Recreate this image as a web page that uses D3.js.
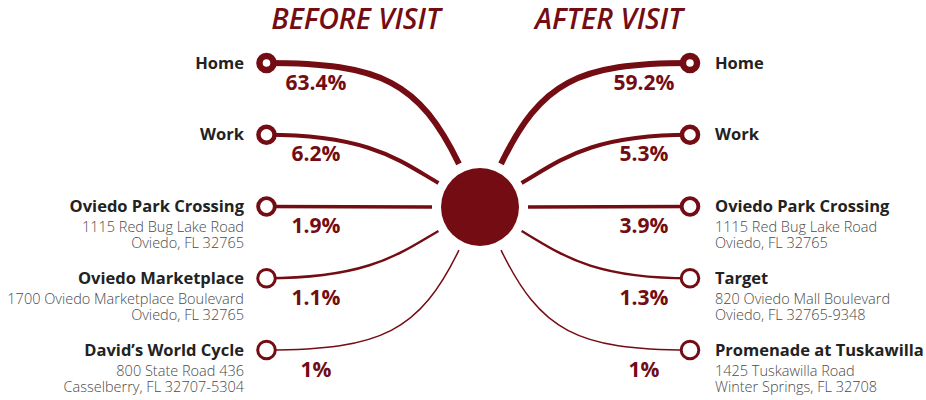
<!DOCTYPE html>
<html>
<head>
<meta charset="utf-8">
<script src="https://cdn.jsdelivr.net/npm/d3@7"></script>
<style>
  body { margin: 0; background: #fff; }
  text { font-family: "Open Sans", sans-serif; }
</style>
</head>
<body>
<div id="chart"></div>
<script>
// data
var titles = ["BEFORE VISIT", "AFTER VISIT"];

var beforeNames = ["Home", "Work", "Oviedo Park Crossing", "Oviedo Marketplace", "David’s World Cycle"];
var beforeAddress = [
  [],
  [],
  ["1115 Red Bug Lake Road", "Oviedo, FL 32765"],
  ["1700 Oviedo Marketplace Boulevard", "Oviedo, FL 32765"],
  ["800 State Road 436", "Casselberry, FL 32707-5304"]
];
var beforeValues = [63.4, 6.2, 1.9, 1.1, 1];

var afterNames = ["Home", "Work", "Oviedo Park Crossing", "Target", "Promenade at Tuskawilla"];
var afterAddress = [
  [],
  [],
  ["1115 Red Bug Lake Road", "Oviedo, FL 32765"],
  ["820 Oviedo Mall Boulevard", "Oviedo, FL 32765-9348"],
  ["1425 Tuskawilla Road", "Winter Springs, FL 32708"]
];
var afterValues = [59.2, 5.3, 3.9, 1.3, 1];

// layout
var width = 926, height = 400;
var cx = 480, cy = 207, hubR = 39, gapR = 48;
var red = "#740c13";

var svg = d3.select("#chart")
  .append("svg")
  .attr("width", width)
  .attr("height", height);

var y = d3.scalePoint()
  .domain(d3.range(5))
  .range([63, 350]);

// angle (deg) at which each link leaves the hub, by rank
var angle = d3.scaleOrdinal()
  .domain(d3.range(5))
  .range([64, 30, 0, -30, -64]);

// link thickness by rank
var lineW = d3.scaleOrdinal()
  .domain(d3.range(5))
  .range([6, 4, 3.4, 2.4, 1.5]);

function fmt(v) {
  return (v % 1 === 0 ? v : v.toFixed(1)) + "%";
}

function linkPath(i, side, nodeX) {
  var a = angle(i) * Math.PI / 180;
  var ux = side * Math.cos(a), uy = -Math.sin(a);
  var sx = cx + ux * gapR, sy = cy + uy * gapR;
  var ey = y(i);
  var dy = Math.abs(ey - sy);
  var L = 0.9 * dy;
  var p = d3.path();
  p.moveTo(sx, sy);
  if (dy < 1) {
    p.lineTo(nodeX, ey);
  } else {
    p.bezierCurveTo(sx + ux * L, sy + uy * L,
      nodeX + (sx - nodeX) * 0.6, ey,
      nodeX, ey);
  }
  return p.toString();
}

function drawSide(names, address, values, side, nodeX, pctX, labelX) {
  var g = svg.append("g");
  var idx = d3.range(names.length);

  g.selectAll("path.link")
    .data(idx)
    .enter()
    .append("path")
    .attr("class", "link")
    .attr("d", function (i) { return linkPath(i, side, nodeX); })
    .attr("fill", "none")
    .attr("stroke", red)
    .attr("stroke-width", function (i) { return lineW(i); });

  g.selectAll("circle.node")
    .data(idx)
    .enter()
    .append("circle")
    .attr("class", "node")
    .attr("cx", nodeX)
    .attr("cy", function (i) { return y(i); })
    .attr("r", function (i) { return 10.3 - Math.max(3, lineW(i) + 0.5) / 2; })
    .attr("fill", "#fff")
    .attr("stroke", red)
    .attr("stroke-width", function (i) { return Math.max(3, lineW(i) + 0.5); });

  g.selectAll("text.pct")
    .data(idx)
    .enter()
    .append("text")
    .attr("class", "pct")
    .attr("x", pctX)
    .attr("y", function (i) { return y(i) + 26.5; })
    .attr("text-anchor", "middle")
    .attr("font-size", 21)
    .attr("font-weight", 700)
    .attr("fill", red)
    .text(function (i) { return fmt(values[i]); });

  var anchor = side < 0 ? "end" : "start";

  g.selectAll("text.name")
    .data(idx)
    .enter()
    .append("text")
    .attr("class", "name")
    .attr("x", labelX)
    .attr("y", function (i) { return y(i) + 5.5; })
    .attr("text-anchor", anchor)
    .attr("font-size", 16.5)
    .attr("font-weight", 700)
    .attr("fill", "#222")
    .text(function (i) { return names[i]; });

  idx.forEach(function (i) {
    address[i].forEach(function (line, k) {
      g.append("text")
        .attr("x", labelX)
        .attr("y", y(i) + 25.5 + k * 16)
        .attr("text-anchor", anchor)
        .attr("font-size", 14.5)
        .attr("font-weight", 300)
        .attr("fill", "#4a4a4a")
        .text(line);
    });
  });
}

drawSide(beforeNames, beforeAddress, beforeValues, -1, 266.5, 316, 244);
drawSide(afterNames, afterAddress, afterValues, 1, 690, 644, 715);

// hub
svg.append("circle")
  .attr("cx", cx)
  .attr("cy", cy)
  .attr("r", hubR)
  .attr("fill", red);

// titles
svg.selectAll("text.title")
  .data(titles)
  .enter()
  .append("text")
  .attr("class", "title")
  .attr("x", function (d, i) { return i === 0 ? 356 : 609; })
  .attr("y", 29)
  .attr("text-anchor", "middle")
  .attr("font-size", 28.5)
  .attr("font-weight", 600)
  .attr("font-style", "italic")
  .attr("fill", red)
  .text(function (d) { return d; });
</script>
</body>
</html>
